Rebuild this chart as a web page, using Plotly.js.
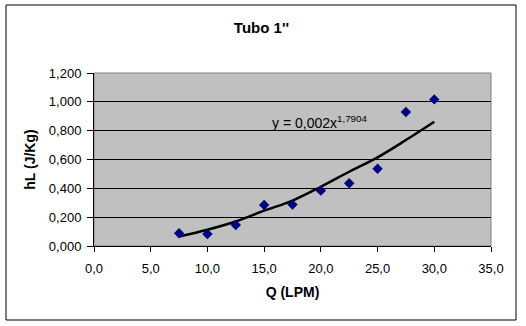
<!DOCTYPE html>
<html>
<head>
<meta charset="utf-8">
<script src="https://cdn.plot.ly/plotly-3.0.1.min.js"></script>
<style>
html,body{margin:0;padding:0;background:#fff;}
#chart{width:526px;height:326px;}
</style>
</head>
<body>
<div id="chart"></div>
<script>
// Measured data (Q in LPM, hL in J/Kg)
const flowQ = [7.5, 10, 12.5, 15, 17.5, 20, 22.5, 25, 27.5, 30];
const headLoss = [0.088, 0.083, 0.146, 0.284, 0.287, 0.384, 0.435, 0.536, 0.929, 1.017];
// Power trendline values
const trendQ = [7.5, 10, 12.5, 15, 17.5, 20, 22.5, 25, 27.5, 30];
const trendHL = [0.066, 0.113, 0.170, 0.245, 0.315, 0.411, 0.515, 0.615, 0.735, 0.862];
const yTicks = [0, 0.2, 0.4, 0.6, 0.8, 1.0, 1.2];
const xTicks = [0, 5, 10, 15, 20, 25, 30, 35];
const chartTitle = "Tubo 1''";
const xTitle = "Q (LPM)";
const yTitle = "hL (J/Kg)";
const eqText = "y = 0,002x<sup>1,7904</sup>";

const FONT = 'Arial, Liberation Sans, sans-serif';

const traces = [
  {
    x: trendQ, y: trendHL, type: 'scatter', mode: 'lines',
    line: {color: '#000000', width: 2.5, shape: 'spline'},
    hoverinfo: 'skip', showlegend: false
  },
  {
    x: flowQ, y: headLoss, type: 'scatter', mode: 'markers',
    marker: {symbol: 'diamond', size: 8, color: '#000080', line: {width: 0}},
    showlegend: false
  }
];

const layout = {
  width: 526, height: 326,
  margin: {l: 94, r: 35, t: 73, b: 80, pad: 0},
  paper_bgcolor: '#ffffff',
  plot_bgcolor: '#c0c0c0',
  separators: ',.',
  font: {family: FONT, size: 13, color: '#000'},
  title: {
    text: chartTitle,
    font: {family: FONT, size: 15, color: '#000', weight: 'bold'},
    x: 0.497, xanchor: 'center', y: 0.914, yanchor: 'middle'
  },
  xaxis: {
    range: [0, 35], tickvals: xTicks, tickformat: '.1f',
    showgrid: false, zeroline: false,
    showline: true, linecolor: '#000', linewidth: 1,
    ticks: 'outside', ticklen: 5, tickcolor: '#000',
    ticklabelstandoff: 5,
    tickfont: {family: FONT, size: 13, color: '#000'},
    title: {text: xTitle, font: {family: FONT, size: 14, weight: 'bold', color: '#000'}, standoff: 12},
    mirror: false
  },
  yaxis: {
    range: [0, 1.2], tickvals: yTicks, tickformat: ',.3f',
    showgrid: true, gridcolor: '#000', gridwidth: 1,
    zeroline: false,
    showline: true, linecolor: '#000', linewidth: 1,
    ticks: 'outside', ticklen: 6, tickcolor: '#000',
    ticklabelstandoff: 3,
    tickfont: {family: FONT, size: 13, color: '#000'},
    title: {text: yTitle, font: {family: FONT, size: 14, weight: 'bold', color: '#000'}, standoff: 9}
  },
  shapes: [
    {type: 'rect', xref: 'paper', yref: 'paper', x0: 0, x1: 1, y0: 0, y1: 1,
     line: {color: '#808080', width: 1}, fillcolor: 'rgba(0,0,0,0)', layer: 'below'},
    {type: 'rect', xref: 'paper', yref: 'paper',
     x0: (6 - 94) / 397, x1: (516 - 94) / 397, y0: (246 - 320) / 173, y1: (246 - 5) / 173,
     line: {color: '#000', width: 1}, fillcolor: 'rgba(0,0,0,0)'}
  ],
  annotations: [
    {x: 15.55, y: 0.862, xref: 'x', yref: 'y', text: eqText, showarrow: false,
     xanchor: 'left', yanchor: 'middle', font: {family: FONT, size: 14, color: '#000'}}
  ]
};

Plotly.newPlot('chart', traces, layout, {displayModeBar: false, staticPlot: true});
</script>
</body>
</html>
